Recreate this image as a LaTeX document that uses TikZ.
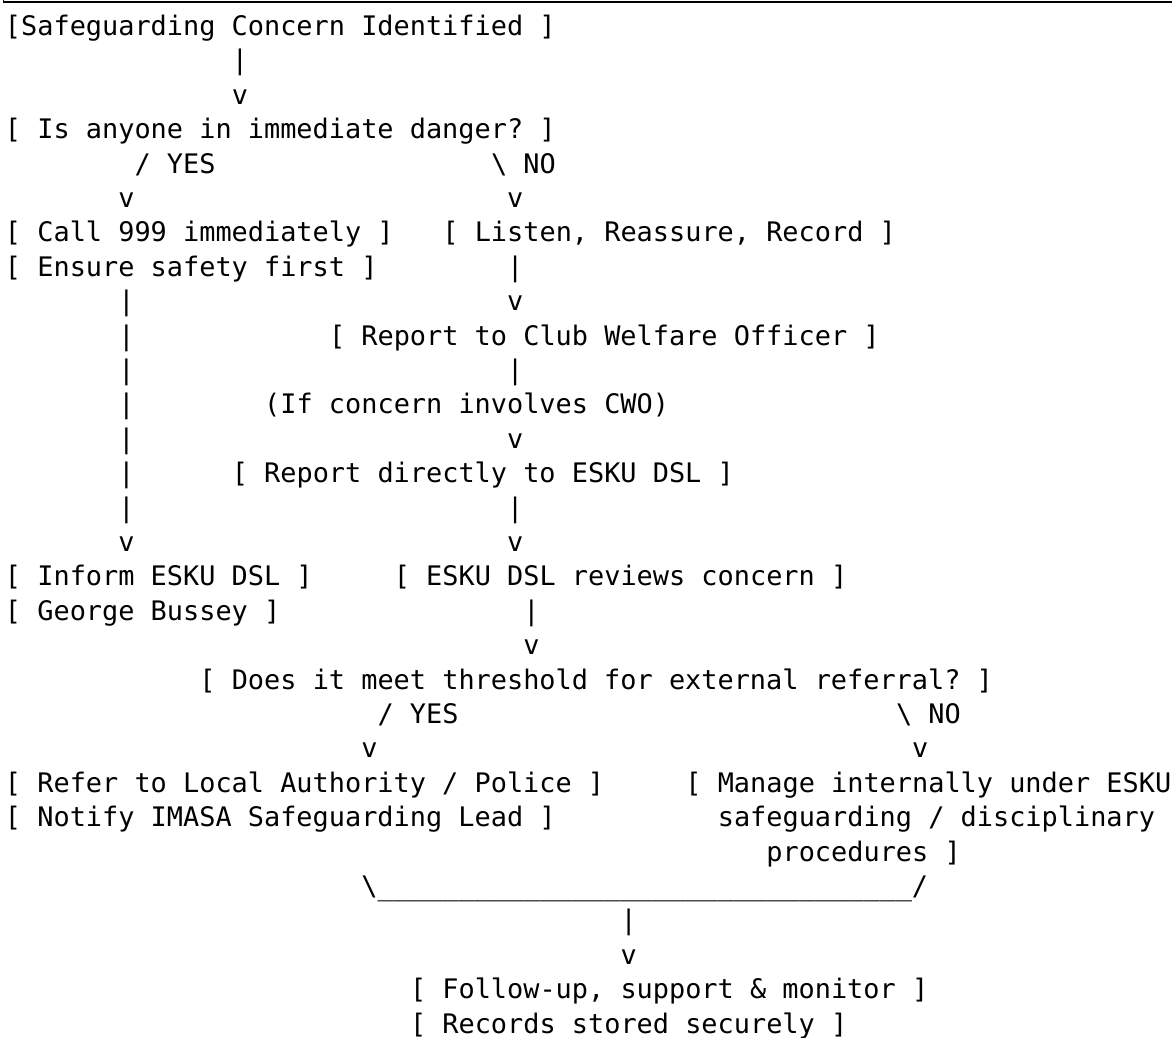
\documentclass[tikz,border=0pt]{standalone}
\usepackage{fontspec}
\newfontfamily\mono{DejaVu Sans Mono}
\newcommand\ulrun{\_\_\_\_\_\_\_\_\_\_\_\_\_\_\_\_\_\_\_\_\_\_\_\_\_\_\_\_\_\_\_\_\_}
\begin{document}
\begin{tikzpicture}[x=16.2pt,y=-34.4pt,
  t/.style={anchor=base west,inner sep=0pt,outer sep=0pt,
    font=\mono\fontsize{26.9pt}{34.4pt}\selectfont\frenchspacing}]
\useasboundingbox (0pt,0pt) rectangle (1172pt,-1037pt);
\draw[line width=1.6pt] (3.3pt,0pt) |- (1172pt,-2pt);
\begin{scope}[shift={(5pt,-35.4pt)}]
% row 0-3
\node[t] (concern) at (0,0) {[Safeguarding Concern Identified ]};
\node[t] (c1) at (14,1) {|};
\node[t] (c2) at (14,2) {v};
\node[t] (danger) at (0,3) {[ Is anyone in immediate danger? ]};
% row 4-5
\node[t] (yes1) at (8,4) {/ YES};
\node[t] (no1) at (30,4) {\textbackslash{} NO};
\node[t] (vy1) at (7,5) {v};
\node[t] (vn1) at (31,5) {v};
% row 6-7
\node[t] (call) at (0,6) {[ Call 999 immediately ]};
\node[t] (listen) at (27,6) {[ Listen, Reassure, Record ]};
\node[t] (safety) at (0,7) {[ Ensure safety first ]};
\node[t] (r7) at (31,7) {|};
% left trunk rows 8-15
\node[t] (l8) at (7,8) {|};
\node[t] (l9) at (7,9) {|};
\node[t] (l10) at (7,10) {|};
\node[t] (l11) at (7,11) {|};
\node[t] (l12) at (7,12) {|};
\node[t] (l13) at (7,13) {|};
\node[t] (l14) at (7,14) {|};
\node[t] (l15) at (7,15) {v};
% right branch rows 8-15
\node[t] (r8) at (31,8) {v};
\node[t] (cwo) at (20,9) {[ Report to Club Welfare Officer ]};
\node[t] (r10) at (31,10) {|};
\node[t] (ifcwo) at (16,11) {(If concern involves CWO)};
\node[t] (r12) at (31,12) {v};
\node[t] (direct) at (14,13) {[ Report directly to ESKU DSL ]};
\node[t] (r14) at (31,14) {|};
\node[t] (r15) at (31,15) {v};
% rows 16-18
\node[t] (inform) at (0,16) {[ Inform ESKU DSL ]};
\node[t] (reviews) at (24,16) {[ ESKU DSL reviews concern ]};
\node[t] (george) at (0,17) {[ George Bussey ]};
\node[t] (r17) at (32,17) {|};
\node[t] (r18) at (32,18) {v};
% rows 19-21
\node[t] (threshold) at (12,19) {[ Does it meet threshold for external referral? ]};
\node[t] (yes2) at (23,20) {/ YES};
\node[t] (no2) at (55,20) {\textbackslash{} NO};
\node[t] (vy2) at (22,21) {v};
\node[t] (vn2) at (56,21) {v};
% rows 22-24
\node[t] (refer) at (0,22) {[ Refer to Local Authority / Police ]};
\node[t] (manage) at (42,22) {[ Manage internally under ESKU};
\node[t] (notify) at (0,23) {[ Notify IMASA Safeguarding Lead ]};
\node[t] (manage2) at (44,23) {safeguarding / disciplinary};
\node[t] (manage3) at (47,24) {procedures ]};
% rows 25-29
\node[t] (join) at (22,25) {\textbackslash\ulrun/};
\node[t] (j26) at (38,26) {|};
\node[t] (j27) at (38,27) {v};
\node[t] (follow) at (25,28) {[ Follow-up, support \& monitor ]};
\node[t] (records) at (25,29) {[ Records stored securely ]};
\end{scope}
\end{tikzpicture}
\end{document}
